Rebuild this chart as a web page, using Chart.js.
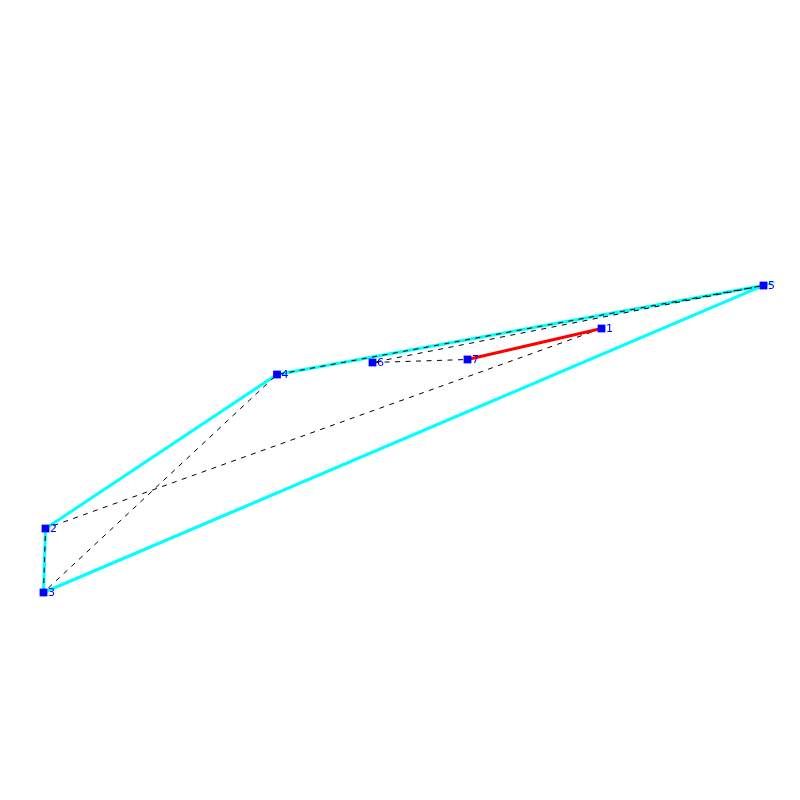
<!DOCTYPE html>
<html>
<head>
<meta charset="utf-8">
<title>Tour</title>
<style>
html, body { margin: 0; padding: 0; background: #fff; }
canvas { display: block; }
</style>
<script src="https://cdn.jsdelivr.net/npm/chart.js@4"></script>
</head>
<body>
<canvas id="grafica" width="800" height="800"></canvas>
<script>
var nodeLabels = ["1", "2", "3", "4", "5", "6", "7"];
var nodeX = [601.5, 45.5, 43.5, 277, 763.5, 372.5, 467.5];
var nodeY = [471.5, 271.5, 207.5, 425.5, 514.5, 437.5, 440.5];
var hullOrder = [2, 1, 3, 4, 2];
var tourOrder = [0, 1, 2, 3, 4, 5, 6, 0];
var bestOrder = [6, 0];

function pick(order) {
    return order.map(function (i) {
        return { x: nodeX[i], y: nodeY[i] };
    });
}

var etiquetas = {
    id: 'etiquetas',
    afterDatasetsDraw: function (chart) {
        var c = chart.ctx;
        var puntos = chart.getDatasetMeta(3).data;
        c.save();
        c.fillStyle = '#0000ff';
        c.font = '11px "DejaVu Sans"';
        c.textBaseline = 'middle';
        c.textAlign = 'left';
        puntos.forEach(function (p, i) {
            c.fillText(nodeLabels[i], p.x + 4.5, p.y + 0.5);
        });
        c.restore();
    }
};

var ctx = document.getElementById("grafica").getContext('2d');
var grafica = new Chart(ctx, {
    type: 'scatter',
    data: {
        datasets: [{
            data: pick(hullOrder),
            showLine: true,
            borderColor: '#00ffff',
            borderWidth: 3,
            pointRadius: 0,
            order: 4
        }, {
            data: pick(tourOrder),
            showLine: true,
            borderColor: '#000000',
            borderWidth: 1,
            borderDash: [5, 5.5],
            pointRadius: 0,
            order: 3
        }, {
            data: pick(bestOrder),
            showLine: true,
            borderColor: '#ff0000',
            borderWidth: 3,
            pointRadius: 0,
            order: 2
        }, {
            data: pick([0, 1, 2, 3, 4, 5, 6]),
            showLine: false,
            pointStyle: 'rect',
            pointRadius: 5.5,
            pointBorderWidth: 0,
            pointBackgroundColor: '#0000ff',
            order: 1
        }]
    },
    options: {
        responsive: false,
        animation: false,
        devicePixelRatio: 1,
        layout: { padding: 0, autoPadding: false },
        plugins: {
            legend: { display: false },
            title: { display: false },
            tooltip: { enabled: false }
        },
        scales: {
            x: { type: 'linear', min: 0, max: 800, display: false },
            y: { type: 'linear', min: 0, max: 800, display: false }
        }
    },
    plugins: [etiquetas]
});
</script>
</body>
</html>
